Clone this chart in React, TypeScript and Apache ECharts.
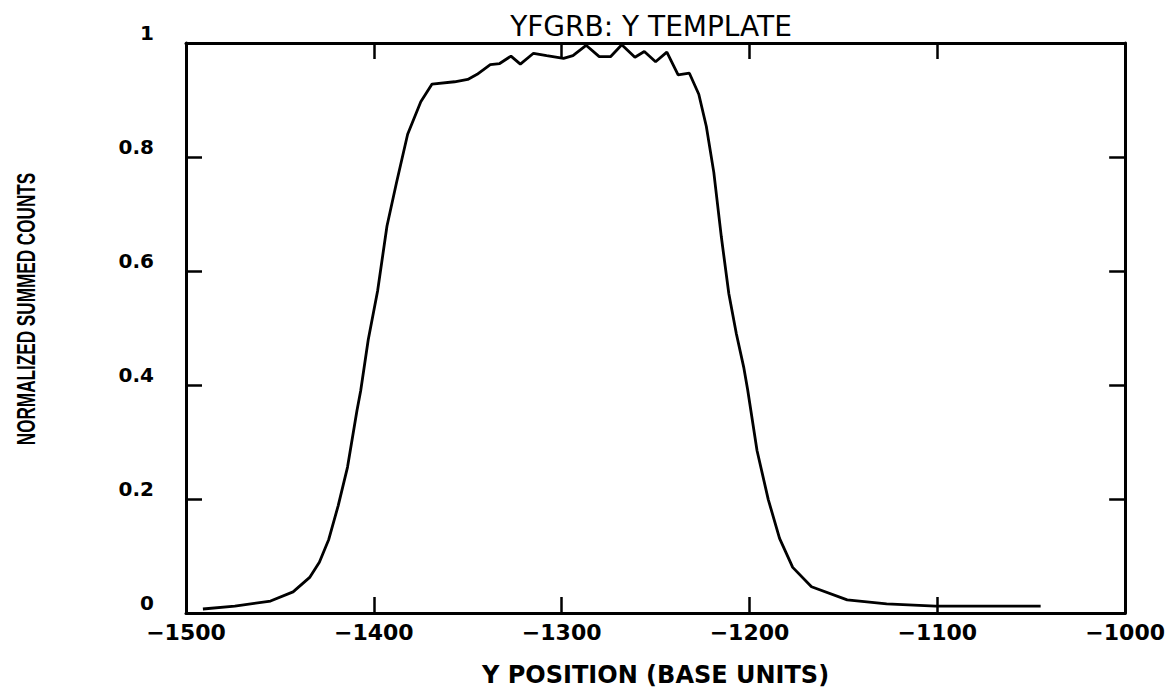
import React, { useEffect, useRef } from "react";
import * as echarts from "echarts";

const xValues = [
  -1491, -1474, -1455, -1443, -1434, -1429, -1424, -1419, -1414, -1409,
  -1407, -1403, -1398, -1393, -1388, -1382, -1375, -1369, -1357, -1350,
  -1345, -1338, -1333, -1327, -1322, -1315, -1308, -1299, -1294, -1287,
  -1280, -1274, -1268, -1261, -1256, -1250, -1244, -1238, -1232, -1227,
  -1223, -1219, -1215, -1211, -1207, -1203, -1201, -1196, -1190, -1184,
  -1177, -1167, -1148, -1127, -1101, -1045,
];

const yValues = [
  0.007, 0.012, 0.021, 0.037, 0.063, 0.089, 0.129, 0.188, 0.256, 0.355,
  0.39, 0.479, 0.565, 0.679, 0.754, 0.84, 0.897, 0.928, 0.932, 0.936,
  0.945, 0.962, 0.964, 0.977, 0.963, 0.982, 0.978, 0.973, 0.978, 0.996,
  0.976, 0.976, 0.997, 0.975, 0.985, 0.967, 0.984, 0.944, 0.947, 0.91,
  0.854, 0.773, 0.66, 0.56, 0.49, 0.43, 0.392, 0.285, 0.199, 0.131,
  0.08, 0.046, 0.023, 0.016, 0.012, 0.012,
];

const titleText = "YFGRB: Y TEMPLATE";
const xName = "Y POSITION (BASE UNITS)";
const yName = "NORMALIZED SUMMED COUNTS";

const xMin = -1500;
const xMax = -1000;
const xStep = 100;
const yMin = 0;
const yMax = 1;
const yStep = 0.2;

export default function App() {
  const ref = useRef<HTMLDivElement>(null);

  useEffect(() => {
    if (!ref.current) return;
    const chart = echarts.init(ref.current, null, { renderer: "svg" });
    const font = "DejaVu Sans, Liberation Sans, sans-serif";
    const axisLine = { show: true, onZero: false, lineStyle: { color: "#000", width: 3 } };
    const axisTick = { show: true, inside: true, length: 16, lineStyle: { color: "#000", width: 2.5 } };
    const xFmt = (v: number) => (v < 0 ? "\u2212" + Math.abs(v) : String(v));
    const yFmt = (v: number) => {
      const r = Math.round(v * 10) / 10;
      if (r === 0) return "0";
      if (r === 1) return "1";
      return r.toFixed(1);
    };
    chart.setOption({
      animation: false,
      backgroundColor: "#fff",
      title: {
        text: titleText,
        left: 646,
        top: 7,
        textAlign: "center",
        textStyle: { color: "#000", fontFamily: font, fontSize: 28, fontWeight: "normal" },
      },
      grid: { left: 186, right: 35, top: 43, bottom: 66, containLabel: false },
      xAxis: [
        {
          type: "value",
          position: "bottom",
          min: xMin,
          max: xMax,
          interval: xStep,
          axisLine,
          axisTick,
          splitLine: { show: false },
          axisLabel: {
            formatter: xFmt,
            color: "#000",
            fontFamily: font,
            fontSize: 22,
            fontWeight: "bold",
            margin: 8,
          },
          name: xName,
          nameLocation: "middle",
          nameGap: 50,
          nameTextStyle: { color: "#000", fontFamily: font, fontSize: 24, fontWeight: "bold" },
        },
        {
          type: "value",
          position: "top",
          min: xMin,
          max: xMax,
          interval: xStep,
          axisLine,
          axisTick,
          splitLine: { show: false },
          axisLabel: { show: false },
        },
      ],
      yAxis: [
        {
          type: "value",
          position: "left",
          min: yMin,
          max: yMax,
          interval: yStep,
          axisLine,
          axisTick,
          splitLine: { show: false },
          axisLabel: {
            formatter: yFmt,
            color: "#000",
            fontFamily: font,
            fontSize: 20,
            fontWeight: "bold",
            margin: 32,
            verticalAlign: "bottom",
          },
        },
        {
          type: "value",
          position: "right",
          min: yMin,
          max: yMax,
          interval: yStep,
          axisLine,
          axisTick,
          splitLine: { show: false },
          axisLabel: { show: false },
        },
      ],
      graphic: [
        {
          type: "text",
          x: 26,
          y: 309,
          rotation: Math.PI / 2,
          scaleX: 0.66,
          scaleY: 1,
          style: {
            text: yName,
            font: "bold 26px 'Liberation Sans', Arial, sans-serif",
            fill: "#000",
            align: "center",
            verticalAlign: "middle",
            textAlign: "center",
            textVerticalAlign: "middle",
          },
        },
      ],
      series: [
        {
          type: "line",
          xAxisIndex: 0,
          yAxisIndex: 0,
          data: xValues.map((x, i) => [x, yValues[i]]),
          showSymbol: false,
          smooth: false,
          lineStyle: { color: "#000", width: 2.8 },
        },
      ],
    });
    return () => chart.dispose();
  }, []);

  return (
    <div
      ref={ref}
      style={{ position: "fixed", left: 0, top: 0, width: 1168, height: 692, background: "#fff" }}
    />
  );
}
